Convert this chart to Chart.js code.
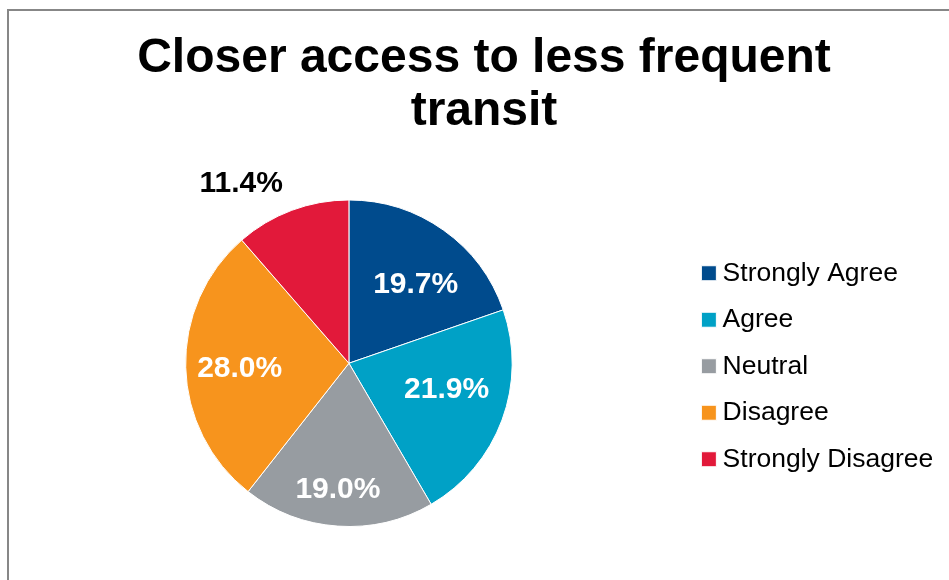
<!DOCTYPE html>
<html>
<head>
<meta charset="utf-8">
<script src="https://cdn.jsdelivr.net/npm/chart.js@4.4.1/dist/chart.umd.min.js"></script>
<style>
  html, body { margin: 0; padding: 0; background: #fff; overflow: hidden; }
  #frame {
    position: absolute;
    left: 7px;
    top: 9px;
    width: 950px;
    height: 569px;
    border-left: 2px solid #878787;
    border-top: 2px solid #878787;
  }
  #pie { display: block; width: 950px; height: 569px; }
</style>
</head>
<body>
<div id="frame">
  <canvas id="pie" width="950" height="569"></canvas>
</div>
<script>
// survey answers, share of respondents in percent
const answers = ['Strongly Agree', 'Agree', 'Neutral', 'Disagree', 'Strongly Disagree'];
const shares = [19.7, 21.9, 19.0, 28.0, 11.4];
const sliceColors = ['#004b8d', '#00a1c6', '#979ca1', '#f7941d', '#e2193a'];

// where each percent label sits: fraction of the radius, and a small turn in degrees
const labelRadius = [0.63, 0.62, 0.78, 0.67, 1.28];
const labelTurn = [5, -5, 1, -1.5, -10.5];
const labelColor = ['#fff', '#fff', '#fff', '#fff', '#000'];

const FONT = '"Liberation Sans", Arial, Helvetica, sans-serif';

const percentLabels = {
  id: 'percentLabels',
  afterDatasetsDraw(chart) {
    const ctx = chart.ctx;
    const meta = chart.getDatasetMeta(0);
    ctx.save();
    ctx.font = 'bold 30px ' + FONT;
    ctx.textAlign = 'center';
    ctx.textBaseline = 'middle';
    meta.data.forEach((arc, i) => {
      const { x, y, startAngle, endAngle, outerRadius } = arc.getProps(['x', 'y', 'startAngle', 'endAngle', 'outerRadius'], true);
      const mid = (startAngle + endAngle) / 2 + labelTurn[i] * Math.PI / 180;
      const r = outerRadius * labelRadius[i];
      ctx.fillStyle = labelColor[i];
      ctx.fillText(shares[i].toFixed(1) + '%', x + Math.cos(mid) * r, y + Math.sin(mid) * r);
    });
    ctx.restore();
  }
};

// give the legend a bit of extra room on its right so the pie sits further left
const legendRoom = {
  id: 'legendRoom',
  beforeLayout(chart) {
    const legend = chart.legend;
    if (legend && !legend._widened) {
      const fit = legend.fit;
      legend.fit = function () {
        fit.call(this);
        this.width += 15.25;
      };
      legend._widened = true;
    }
  }
};

const ctx = document.getElementById('pie');
new Chart(ctx, {
  type: 'pie',
  data: {
    labels: answers,
    datasets: [{
      data: shares,
      backgroundColor: sliceColors,
      borderColor: '#ffffff',
      borderWidth: 1
    }]
  },
  options: {
    responsive: false,
    animation: false,
    devicePixelRatio: 1,
    layout: {
      padding: { left: 0.5, right: 0.5, top: 0, bottom: 53 }
    },
    plugins: {
      title: {
        display: true,
        text: ['Closer access to less frequent', 'transit'],
        color: '#000',
        font: { family: FONT, size: 48, weight: 'bold', lineHeight: 1.104 },
        padding: { top: 21.5, bottom: 61 }
      },
      legend: {
        position: 'right',
        fullSize: false,
        // empty title, only used to push the entries down a little
        title: { display: true, text: '', padding: 0, font: { size: 6, lineHeight: 1 } },
        labels: {
          color: '#000',
          font: { family: FONT, size: 26.5, lineHeight: '26px' },
          usePointStyle: true,
          pointStyle: 'rect',
          boxWidth: 1,
          boxHeight: 15,
          padding: 20
        }
      },
      tooltip: { enabled: false }
    }
  },
  plugins: [percentLabels, legendRoom]
});
</script>
</body>
</html>
